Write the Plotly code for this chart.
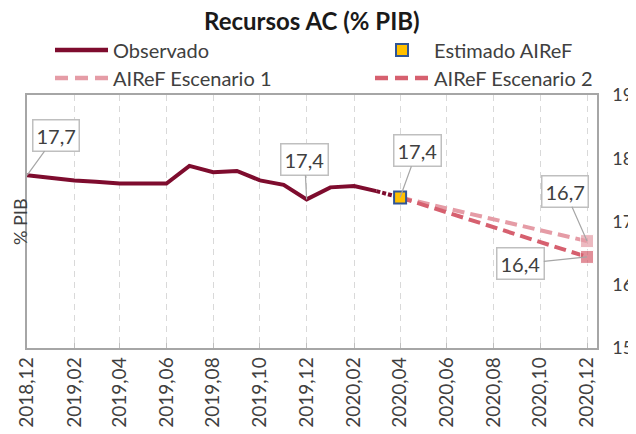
import plotly.graph_objects as go

# ---- data ----
obs_dates = ["2018-12-01", "2019-01-01", "2019-02-01", "2019-03-01", "2019-04-01",
             "2019-05-01", "2019-06-01", "2019-07-01", "2019-08-01", "2019-09-01",
             "2019-10-01", "2019-11-01", "2019-12-01", "2020-01-01", "2020-02-01",
             "2020-03-01"]
obs_values = [17.73, 17.69, 17.65, 17.63, 17.60, 17.60, 17.60, 17.88, 17.78, 17.80,
              17.65, 17.58, 17.35, 17.54, 17.56, 17.48]

est_dates = ["2020-04-01"]
est_values = [17.38]

esc1_dates = ["2020-04-01", "2020-12-01"]
esc1_values = [17.38, 16.69]
esc2_dates = ["2020-04-01", "2020-12-01"]
esc2_values = [17.38, 16.44]

label_points = [("2018-12-01", 17.73, "17,7"), ("2019-12-01", 17.35, "17,4"),
                ("2020-04-01", 17.38, "17,4"), ("2020-12-01", 16.69, "16,7"),
                ("2020-12-01", 16.44, "16,4")]
label_offsets = [(29, -40), (-2, -40), (17, -47), (-22, -50), (-67, 7)]

title_text = "Recursos AC (% PIB)"
legend_names = ["Observado", "Estimado AIReF", "AIReF Escenario 1", "AIReF Escenario 2"]

C_OBS = "#7E0C2E"
C_E1 = "#E59CA6"
C_E2 = "#D6606F"
C_EST_FILL = "#FFC000"
C_EST_LINE = "#2F5597"
TXT = "#404040"
FONT = "Lato"

# the page body has an 8px margin: the figure is laid out in page pixels minus 8
OFF = 8
W, H = 636 - OFF, 434 - OFF

fig = go.Figure()

fig.add_trace(go.Scatter(x=obs_dates, y=obs_values, mode="lines",
                         line=dict(color=C_OBS, width=4), name=legend_names[0],
                         showlegend=False))
# connection from last observed to the AIReF estimate
fig.add_trace(go.Scatter(x=[obs_dates[-1], est_dates[0]], y=[obs_values[-1], est_values[0]],
                         mode="lines", line=dict(color=C_OBS, width=4, dash="4px,2px"),
                         showlegend=False, hoverinfo="skip"))
fig.add_trace(go.Scatter(x=esc1_dates, y=esc1_values, mode="lines+markers",
                         line=dict(color=C_E1, width=4, dash="12px,6px"),
                         marker=dict(symbol="square", size=[0, 13], color=C_E1),
                         name=legend_names[2], showlegend=False))
fig.add_trace(go.Scatter(x=esc2_dates, y=esc2_values, mode="lines+markers",
                         line=dict(color=C_E2, width=4, dash="12px,6px"),
                         marker=dict(symbol="square", size=[0, 13], color=C_E2),
                         name=legend_names[3], showlegend=False))
fig.add_trace(go.Scatter(x=est_dates, y=est_values, mode="markers",
                         marker=dict(symbol="square", size=12, color=C_EST_FILL,
                                     line=dict(color=C_EST_LINE, width=2)),
                         name=legend_names[1], showlegend=False))

annotations = []
for (x, y, t), (ax, ay) in zip(label_points, label_offsets):
    annotations.append(dict(x=x, y=y, xref="x", yref="y", text=t, showarrow=True,
                            ax=ax, ay=ay, arrowhead=0, arrowwidth=1.2, arrowcolor="#A6A6A6",
                            standoff=0, startstandoff=0,
                            font=dict(family=FONT, size=20, color=TXT),
                            bgcolor="white", bordercolor="#BFBFBF", borderwidth=1.5,
                            borderpad=3))

# plot area in page pixels
L, R, T, B = 27, 597, 95, 348
def px(xp):
    return (xp - L) / (R - L)
def py(yp):
    return (B - yp) / (B - T)

shapes = []
legend_rows = [
    (55, 108, 50, C_OBS, "solid", 111, legend_names[0]),
    (55, 108, 78, C_E1, "13px,7px", 111, legend_names[2]),
    (375, 428, 78, C_E2, "13px,7px", 432, legend_names[3]),
]
for x0, x1, yy, col, dash, tx, name in legend_rows:
    shapes.append(dict(type="line", xref="paper", yref="paper", x0=px(x0), x1=px(x1),
                       y0=py(yy), y1=py(yy), line=dict(color=col, width=4.5, dash=dash)))
    annotations.append(dict(x=px(tx), y=py(yy), xref="paper", yref="paper", text=name,
                            showarrow=False, xanchor="left", yanchor="middle",
                            font=dict(family=FONT, size=20, color=TXT)))
shapes.append(dict(type="rect", xref="paper", yref="paper", xsizemode="pixel",
                   ysizemode="pixel", xanchor=px(402), yanchor=py(50),
                   x0=-6, x1=6, y0=-6, y1=6, fillcolor=C_EST_FILL,
                   line=dict(color=C_EST_LINE, width=2)))
annotations.append(dict(x=px(432), y=py(50), xref="paper", yref="paper",
                        text=legend_names[1], showarrow=False, xanchor="left",
                        yanchor="middle", font=dict(family=FONT, size=20, color=TXT)))
# y title on the left
annotations.append(dict(x=px(OFF), y=py(222), xref="paper", yref="paper", text="% PIB",
                        showarrow=False, textangle=-90, xanchor="left", yanchor="middle",
                        borderpad=0,
                        font=dict(family=FONT, size=18, color=TXT)))
# chart title as an annotation centred at page y = 21
annotations.append(dict(x=0.5, y=py(21), xref="paper", yref="paper",
                        text="<b>" + title_text + "</b>", showarrow=False,
                        xanchor="center", yanchor="middle",
                        font=dict(family=FONT, size=24, color="#1a1a1a")))

fig.update_layout(
    width=W, height=H,
    margin=dict(l=L - OFF, r=W - (R - OFF), t=T - OFF, b=H - (B - OFF), autoexpand=False),
    paper_bgcolor="white", plot_bgcolor="white",
    showlegend=False,
    annotations=annotations,
    shapes=shapes,
)
fig.update_xaxes(
    type="date", range=["2018-12-01", "2020-12-14"], automargin=False,
    tick0="2018-12-01", dtick="M2", tickformat="%Y,%m", tickangle=-90,
    tickfont=dict(family=FONT, size=19, color=TXT), ticklabeloverflow="allow",
    showgrid=True, gridcolor="#D9D9D9", gridwidth=1, griddash="6px,5px",
    ticks="inside", ticklen=5, tickcolor="#BFBFBF",
    showline=True, linecolor="#A6A6A6", linewidth=1.5, mirror=True,
    zeroline=False,
)
fig.update_yaxes(
    range=[15, 19], dtick=1, side="right", showgrid=False, zeroline=False, automargin=False,
    tickfont=dict(family=FONT, size=18, color=TXT), ticklabelstandoff=10,
    ticklabeloverflow="allow",
    showline=True, linecolor="#A6A6A6", linewidth=1.5, mirror=True,
)

fig.write_html("out.html")
